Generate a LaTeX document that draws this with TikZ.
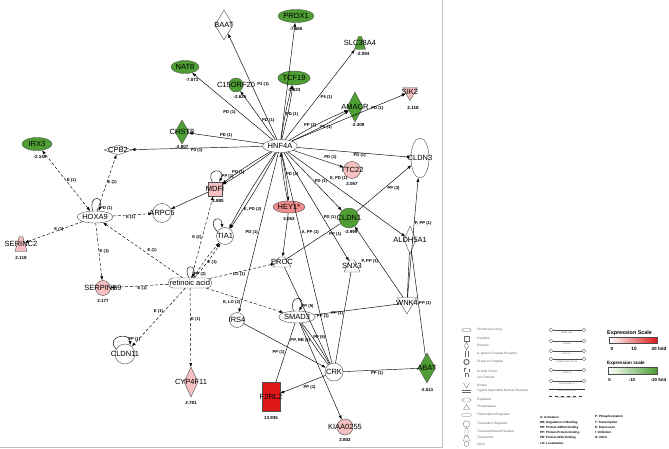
\documentclass[tikz,border=0pt]{standalone}
\usepackage{fontspec}
\setmainfont{Liberation Sans}
\usepackage{tikz}
\usetikzlibrary{shapes.geometric,shapes.misc,arrows.meta,positioning}

\definecolor{dngreen}{RGB}{78,158,52}
\definecolor{uppink}{RGB}{246,192,192}
\definecolor{upmid}{RGB}{238,140,140}
\definecolor{upred}{RGB}{222,24,24}
\definecolor{rimgray}{RGB}{80,80,80}

\newcommand{\gfont}{\fontsize{7.5}{8}\selectfont}
\newcommand{\efont}{\fontsize{4.2}{4.5}\selectfont\bfseries}
\newcommand{\vfont}{\fontsize{4.5}{5}\selectfont\bfseries}
\newcommand{\kfont}{\fontsize{3.2}{3.6}\selectfont}
\newcommand{\blankbox}{\phantom{i}}

\tikzset{
  gene/.style={draw=rimgray, line width=0.4pt, inner sep=0pt, font=\gfont},
  every label/.style={font=\gfont, inner sep=0pt},
  ell/.style={gene, ellipse},
  dia/.style={gene, diamond},
  tri/.style={gene, regular polygon, regular polygon sides=3, shape border rotate=180},
  trp/.style={gene, trapezium, trapezium left angle=70, trapezium right angle=70, trapezium stretches},
  val/.style={font=\vfont, inner sep=0pt},
  lbl/.style={font=\efont, inner sep=0.6pt},
  rel/.style={line width=0.45pt, ->},
  link/.style={line width=0.45pt},
  ind/.style={rel, dash pattern=on 3pt off 2pt},
  key/.style={font=\kfont, text=black!60, inner sep=0pt, anchor=west},
}

\begin{document}
\begin{tikzpicture}[x=1pt, y=-1pt, >={Latex[length=4pt,width=3pt]}]
\useasboundingbox (0,0) rectangle (669,449);

% panel frame
\draw[black!25, line width=0.5pt] (0,447) -- (442,447) -- (442,0);

% molecules
\node[ell, fill=white, minimum width=32pt, minimum height=13pt] (hnf4a) at (280,146) {HNF4A};
\node[dia, fill=white, minimum width=18pt, minimum height=30pt, label=center:BAAT] (baat) at (224,25) {};
\node[ell, fill=dngreen, minimum width=27pt, minimum height=13pt] (prox1) at (296,16) {PROX1};
\node[val, below=4pt of prox1] (prox1v) {-7.665};
\node[trp, fill=dngreen, minimum width=11pt, minimum height=13pt, label=center:SLC38A4] (slc38a4) at (360,43) {\blankbox};
\node[val, below=2pt of slc38a4, xshift=3pt] (slc38a4v) {-2.094};
\node[ell, fill=dngreen, minimum width=32pt, minimum height=14pt] (tcf19) at (294,78) {TCF19};
\node[val, below=3pt of tcf19] (tcf19v) {-2.623};
\node[gene, circle, fill=dngreen, minimum size=14pt, label=center:C15ORF20] (c15orf20) at (236,85) {};
\node[val, below=3pt of c15orf20, xshift=4pt] (c15orf20v) {-2.625};
\node[ell, fill=dngreen, minimum width=28pt, minimum height=13pt] (nat8) at (185,67) {NAT8};
\node[val, below=4pt of nat8, xshift=7pt] (nat8v) {-7.071};
\node[dia, fill=dngreen, minimum width=16pt, minimum height=30pt, label=center:AMACR] (amacr) at (355,107) {};
\node[val, below=1pt of amacr, xshift=3pt] (amacrv) {-2.308};
\node[tri, fill=uppink, minimum size=17pt, label=center:SIK2] (sik2) at (410,92) {\blankbox};
\node[val, below=5pt of sik2, xshift=3pt] (sik2v) {2.118};
\node[dia, fill=dngreen, minimum width=14pt, minimum height=24pt, label=center:CHST8] (chst8) at (182,132) {};
\node[val, below=1pt of chst8] (chst8v) {-2.807};
\node[ell, fill=dngreen, minimum width=30pt, minimum height=13pt] (irx3) at (37,144) {IRX3};
\node[val, below=4pt of irx3, xshift=3pt] (irx3v) {-2.149};
\node[dia, fill=white, minimum width=28pt, minimum height=10pt, label=center:CPB2] (cpb2) at (118,150) {};
\node[ell, fill=white, minimum width=30pt, minimum height=12pt] (hoxa9) at (95,217) {HOXA9};
\node[trp, fill=uppink, minimum width=12pt, minimum height=15pt, label=center:SERINC2] (serinc2) at (21,244) {\blankbox};
\node[val, below=4pt of serinc2] (serinc2v) {2.118};
\node[gene, circle, fill=white, minimum size=19pt, label=center:ARPC5] (arpc5) at (162,213) {};
\node[gene, rectangle, fill=uppink, minimum size=14pt, label=center:MDFI] (mdfi) at (215,189) {};
\node[val, below=3pt of mdfi, xshift=3pt] (mdfiv) {2.880};
\node[gene, circle, fill=white, minimum size=17pt, label=center:TIA1] (tia1) at (225,236) {};
\node[gene, rounded rectangle, fill=white, minimum height=10pt, inner xsep=1pt] (ra) at (190,283) {retinoic acid};
\node[gene, circle, fill=uppink, minimum size=15pt, label=center:SERPINB9] (serpinb9) at (103,288) {};
\node[val, below=3pt of serpinb9] (serpinb9v) {2.177};
\node[gene, circle, fill=white, minimum size=20pt, label=center:CLDN11] (cldn11) at (125,354) {};
\node[dia, fill=uppink, minimum width=14pt, minimum height=30pt, label=center:CYP4F11] (cyp4f11) at (191,382) {};
\node[val, below=4pt of cyp4f11] (cyp4f11v) {2.781};
\node[trp, fill=white, minimum width=18pt, minimum height=10pt, label=center:PROC] (proc) at (282,262) {\blankbox};
\node[ell, fill=upmid, minimum width=32pt, minimum height=12pt] (hey1) at (289,207) {HEY1*};
\node[val, below=4pt of hey1] (hey1v) {3.063};
\node[gene, circle, fill=uppink, minimum size=17pt, label=center:TTC22] (ttc22) at (352,170) {};
\node[val, below=3pt of ttc22] (ttc22v) {2.067};
\node[gene, circle, fill=dngreen, minimum size=20pt, label=center:CLDN1] (cldn1) at (349,218) {};
\node[val, below=2pt of cldn1, xshift=2pt] (cldn1v) {-2.999};
\node[ell, fill=white, minimum width=18pt, minimum height=40pt, label=center:CLDN3] (cldn3) at (420,158) {};
\node[dia, fill=white, minimum width=12pt, minimum height=28pt, label=center:ALDH5A1] (aldh5a1) at (410,240) {};
\node[trp, fill=white, minimum width=16pt, minimum height=12pt, label=center:SNX3] (snx3) at (352,266) {\blankbox};
\node[tri, fill=white, minimum size=22pt, label=center:WNK4] (wnk4) at (407,303) {\blankbox};
\node[ell, fill=white, minimum width=30pt, minimum height=12pt] (smad3) at (297,317) {SMAD3};
\node[gene, circle, fill=white, minimum size=15pt, label=center:IRS4] (irs4) at (237,320) {};
\node[gene, circle, fill=white, minimum size=18pt, label=center:CRK] (crk) at (334,372) {};
\node[gene, rectangle, fill=upred, minimum width=18pt, minimum height=29pt, label=center:F2RL2] (f2rl2) at (271,397) {};
\node[val, below=4pt of f2rl2] (f2rl2v) {13.935};
\node[gene, circle, fill=uppink, minimum size=16pt, label=center:KIAA0255] (kiaa0255) at (345,427) {};
\node[val, below=3pt of kiaa0255] (kiaa0255v) {2.802};
\node[dia, fill=dngreen, minimum width=17pt, minimum height=30pt, label=center:ABAT] (abat) at (427,368) {};
\node[val, below=5pt of abat] (abatv) {-2.611};

% HNF4A
\draw[rel] (hnf4a) -- node[lbl, pos=0.52, anchor=west, xshift=5pt] {P3 (1)} (baat);
\draw[rel] (hnf4a) -- (prox1);
\draw[rel] (hnf4a) to[bend left=3] node[lbl, pos=0.45, right] {PD (1)} (tcf19);
\draw[rel] (hnf4a) to[bend right=3] (tcf19);
\draw[rel] (hnf4a) -- node[lbl, pos=0.5, below right] {P5 (1)} (slc38a4);
\draw[rel] (hnf4a) -- node[lbl, pos=0.4, right] {PD (1)} (c15orf20);
\draw[rel] (hnf4a) -- node[lbl, pos=0.45, below left] {PD (1)} (nat8);
\draw[rel] (hnf4a) -- node[lbl, pos=0.5, above] {PD (1)} (chst8);
\draw[rel] (hnf4a) -- node[lbl, pos=0.5, below] {P3 (1)} (cpb2);
\draw[rel] (hnf4a) to[bend left=4] node[lbl, pos=0.35, above] {PP (3)} (amacr);
\draw[rel] (hnf4a) to[bend right=4] node[lbl, pos=0.6, below] {P5 (1)} (amacr);
\draw[rel] (hnf4a) -- node[lbl, pos=0.75, below] {PD (1)} (sik2);
\draw[rel] (hnf4a) -- node[lbl, pos=0.55, below] {PD (1)} (cldn3);
\draw[rel] (hnf4a) -- node[lbl, pos=0.6, above right] {PD (1)} (ttc22);
\draw[rel] (hnf4a) -- node[lbl, pos=0.35, above right] {E, PD (1)} (aldh5a1);
\draw[rel] (hnf4a) -- node[lbl, pos=0.5, right] {PD (1)} (cldn1);
\draw[rel] (hnf4a) -- node[lbl, pos=0.6, right] {PD (1)} (snx3);
\draw[rel] (hnf4a) to[bend left=3] node[lbl, pos=0.45, right] {PD (1)} (hey1);
\draw[rel] (hey1) to[bend left=3] (hnf4a);
\draw[rel] (hnf4a) -- node[lbl, pos=0.5, left] {PD (1)} (irs4);
\draw[rel] (hnf4a) to[bend left=3] node[lbl, pos=0.7, above] {PD (1)} (mdfi);
\draw[rel] (hnf4a) to[bend right=3] (mdfi);
\draw[rel] (hnf4a) to[bend left=3] node[lbl, pos=0.75, right] {E, PD (2)} (tia1);
\draw[rel] (hnf4a) to[bend right=3] (tia1);
\draw[link] (hnf4a) -- node[lbl, pos=0.38, right] {A, PP (1)} (crk);
\draw[rel] (hey1) -- (proc);

% retinoic acid
\draw[ind] (ra) -- node[lbl, pos=0.45, above right] {E (1)} (hoxa9);
\draw[ind] (ra) -- node[lbl, pos=0.45, below] {E (1)} (serpinb9);
\draw[ind] (ra) -- node[lbl, pos=0.4, left] {E (1)} (cldn11);
\draw[ind] (ra) -- node[lbl, pos=0.4, right] {E (1)} (cyp4f11);
\draw[ind] (ra) -- node[lbl, pos=0.45, below] {LO (1)} (proc);
\draw[ind] (ra) -- node[lbl, pos=0.45, below left] {E, LO (2)} (smad3);
\draw[ind] (ra) -- node[lbl, pos=0.5, left] {E (2)} (mdfi);
\draw[ind] (ra) to[bend left=4] (tia1);
\draw[ind] (ra) to[bend right=4] node[lbl, pos=0.45, right] {E (1)} (tia1);
\draw[rel] (ra.100) .. controls +(-8,-14) and +(6,-14) .. node[lbl, pos=0.9, right] {PP (2)} (ra.70);

% HOXA9
\draw[ind, <->] (hoxa9) -- node[lbl, pos=0.5, right] {E (1)} (irx3);
\draw[ind] (hoxa9) -- node[lbl, pos=0.5, right] {E (1)} (cpb2);
\draw[ind] (hoxa9) -- node[lbl, pos=0.45, below] {E (1)} (arpc5);
\draw[ind] (hoxa9) -- node[lbl, pos=0.5, above right] {E (1)} (serinc2);
\draw[ind] (hoxa9) -- node[lbl, pos=0.5, right] {E (1)} (serpinb9);
\draw[rel] (hoxa9.110) .. controls +(-5,-16) and +(6,-16) .. node[lbl, pos=0.95, right] {PD (1)} (hoxa9.60);

% others
\draw[rel] (mdfi) -- (arpc5);
\draw[rel] (mdfi.110) .. controls +(-8,-14) and +(8,-14) .. node[lbl, pos=0.85, right] {PP (1)} (mdfi.60);
\draw[rel] (tia1.150) .. controls +(-12,-12) and +(0,-14) .. (tia1.110);
\draw[rel] (cldn11.150) .. controls +(-12,-12) and +(0,-14) .. node[lbl, pos=0.8, right] {PP (1)} (cldn11.60);
\draw[rel] (cldn1) -- node[lbl, pos=0.55, below right] {PP (3)} (cldn3);
\draw[link] (proc) -- node[lbl, pos=0.78, below right] {PP (1)} (cldn1);
\draw[rel] (wnk4) -- node[lbl, pos=0.5, left] {P, PP (1)} (cldn1);
\draw[rel] (wnk4) -- node[lbl, pos=0.62, right] {P, PP (1)} (cldn3);
\draw[link] (aldh5a1) -- (wnk4);
\draw[link] (aldh5a1) -- node[lbl, pos=0.5, right] {PP (1)} (abat);
\draw[link] (smad3) -- node[lbl, pos=0.1, below] {PP (1)} (wnk4);
\draw[link] (snx3) -- node[lbl, pos=0.45, left] {PP (1)} (crk);
\draw[link] (crk) -- node[lbl, pos=0.45, below] {PP (1)} (abat);
\draw[rel] (crk) -- node[lbl, pos=0.5, below right] {PP (1)} (f2rl2);
\draw[rel] (irs4) -- (crk);
\draw[link] (smad3) to[bend left=4] node[lbl, pos=0.35, right] {PP (5)} (crk);
\draw[link] (smad3) to[bend right=4] node[lbl, pos=0.4, left] {PP, RB (2)} (crk);
\draw[link] (proc) -- (crk);
\draw[link] (smad3) -- node[lbl, pos=0.5, left] {PP (1)} (f2rl2);
\draw[rel] (smad3) -- (kiaa0255);
\draw[rel] (smad3.120) .. controls +(-6,-16) and +(8,-16) .. node[lbl, pos=0.9, right] {PP (5)} (smad3.70);

% legend: molecule types
\foreach \y/\t in {330/Chemical or Drug, 339/Cytokine, 346/Enzyme, 354/G-protein Coupled Receptor,
    362/Group or Complex, 371/Growth Factor, 377/Ion Channel, 385/Kinase,
    391/Ligand-dependent Nuclear Receptor, 400/Peptidase, 407/Phosphatase,
    415/Transcription Regulator, 424/Translation Regulator, 432/Transmembrane Receptor,
    438/Transporter, 444/Other}
  \node[key] (key\y) at (477,\y) {\t};
\begin{scope}[draw=black!60, line width=0.3pt]
\draw[rounded corners=1.2pt] (462,328.5) rectangle (471,331.5);
\draw (464,336.5) rectangle (469,341.5);
\draw (466.5,342) -- (468.5,346) -- (466.5,350) -- (464.5,346) -- cycle;
\draw (465,351) -- (465,357) (468,351) -- (468,357);
\draw[line width=1pt] (466.5,362) circle (2.6);
\draw[dashed] (464,368.5) rectangle (469,373.5);
\draw[dashed] (465,374) -- (465,380) (468,374) -- (468,380);
\draw (463.5,383) -- (466.5,388) -- (469.5,383);
\draw (462,390) -- (471,390) (462,392) -- (471,392);
\draw (462,400) -- (464.5,398) -- (468.5,398) -- (471,400) -- (468.5,402) -- (464.5,402) -- cycle;
\draw (463.5,409.5) -- (466.5,404.5) -- (469.5,409.5) -- cycle;
\draw[rounded corners=1.5pt] (461.5,413.5) rectangle (471.5,416.5);
\draw (466.5,424) ellipse (3.5 and 3.2);
\draw[rounded corners=1.4pt] (465,427.5) rectangle (468,436.5);
\draw (463.5,441) -- (464.8,436) -- (468.2,436) -- (469.5,441) -- cycle;
\draw (466.5,444) circle (2.5);
\end{scope}

% legend: relationship lines
\foreach \y/\t [count=\i] in {330/binds only, 341/inhibits, 351/acts on, 359/inhibits and acts on, 370/leads to, 381/translocates to}{
  \draw[black!60, line width=0.35pt] (551,\y) circle (1.8) (584,\y) circle (1.8);
  \draw[black!70, line width=0.35pt] (553,\y) -- (582,\y);
  \node[key, anchor=north, font=\fontsize{2.4}{2.8}\selectfont] (rel\i) at (567,\y+1.5) {\t};
}
\draw[black!80, line width=0.8pt] (549,389) -- (585,389);
\node[key, anchor=north, font=\fontsize{2.4}{2.8}\selectfont] (direct) at (567,390) {direct interaction};
\draw[black!80, line width=0.6pt, dashed] (549,396) -- (585,396);
\node[key, anchor=north, font=\fontsize{2.4}{2.8}\selectfont] (indirect) at (567,397) {indirect interaction};

% legend: expression scales
\node[anchor=west, inner sep=0pt, font=\fontsize{5.4}{6}\selectfont\bfseries] (upscale) at (607,333) {Expression Scale};
\shade[left color=white, right color=upred, draw=black!70, line width=0.3pt] (609,337) rectangle (657,343);
\node[inner sep=0pt, font=\fontsize{4.6}{5}\selectfont\bfseries] (up0) at (612,348.5) {0};
\node[inner sep=0pt, font=\fontsize{4.6}{5}\selectfont\bfseries] (up10) at (634,348.5) {10};
\node[inner sep=0pt, font=\fontsize{4.6}{5}\selectfont\bfseries] (up20) at (659,348.5) {20 fold};
\node[anchor=west, inner sep=0pt, font=\fontsize{4.6}{5}\selectfont\bfseries] (dnscale) at (607,363) {Expression scale};
\shade[left color=white, right color=dngreen, draw=black!70, line width=0.3pt] (608,367.5) rectangle (657,374);
\node[inner sep=0pt, font=\fontsize{4.3}{5}\selectfont\bfseries] (dn0) at (609.5,380) {0};
\node[inner sep=0pt, font=\fontsize{4.3}{5}\selectfont\bfseries] (dn10) at (632,380) {-10};
\node[inner sep=0pt, font=\fontsize{4.3}{5}\selectfont\bfseries] (dn20) at (658.5,380) {-20 fold};

% legend: relationship codes
\foreach \y/\t in {417/A: Activation/Deactivation, 422.5/RB: Regulation of Binding,
    427.5/PR: Protein-mRNA binding, 432.5/PP: Protein-Protein binding,
    437.5/PD: Protein-DNA binding, 443/LO: Localization}
  \node[key, text=black, font=\fontsize{3}{3.4}\selectfont\bfseries] (code\y) at (540,\y) {\t};
\foreach \y/\t in {417/P: Phosphorylation/ Dephosphorylation, 422.5/T: Transcription,
    427.5/E: Expression, 432.5/I: Inhibition, 437.5/O: Other}
  \node[key, text=black, font=\fontsize{3}{3.4}\selectfont\bfseries] (codb\y) at (595,\y) {\t};
\end{tikzpicture}
\end{document}
